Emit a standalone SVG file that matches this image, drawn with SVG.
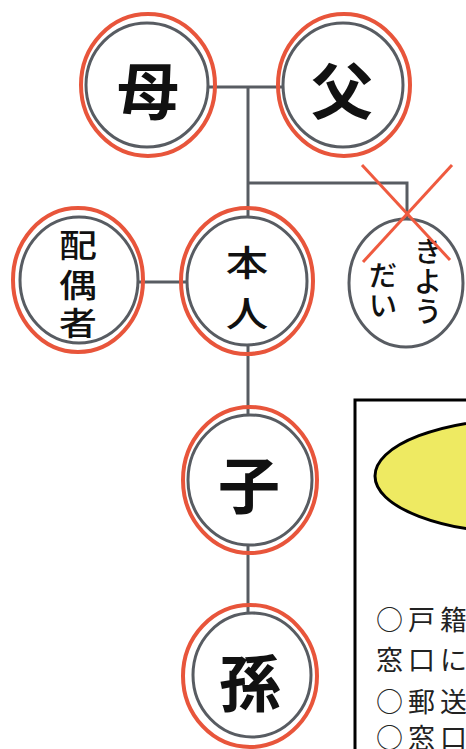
<svg xmlns="http://www.w3.org/2000/svg" width="466" height="749" viewBox="0 0 466 749">
<defs>
<style>
.red{fill:none;stroke:#e8553b;stroke-width:4}
.gray{fill:none;stroke:#585c62;stroke-width:3}
.ln{fill:none;stroke:#585c62;stroke-width:3}
.big{font-family:"Noto Sans CJK JP","Noto Sans",sans-serif;font-weight:700;font-size:62px;fill:#111;text-anchor:middle;dominant-baseline:central}
.mid{font-family:"Noto Sans CJK JP","Noto Sans",sans-serif;font-weight:500;fill:#111;text-anchor:middle;dominant-baseline:central}
.box{font-family:"Noto Sans CJK JP","Noto Sans",sans-serif;font-size:27px;letter-spacing:5px;fill:#222;dominant-baseline:central}
</style>
</defs>
<rect width="466" height="749" fill="#fff"/>
<g id="connectors">
<line class="ln" x1="208" y1="87" x2="283" y2="87"/>
<line class="ln" x1="248" y1="87" x2="248" y2="217"/>
<polyline class="ln" points="248,183 407,183 407,219"/>
<line class="ln" x1="138" y1="282" x2="187" y2="282"/>
<line class="ln" x1="248" y1="345" x2="248" y2="415"/>
<line class="ln" x1="248" y1="545" x2="248" y2="613"/>
</g>
<g id="haha">
<ellipse class="red" cx="148" cy="85" rx="67" ry="71"/>
<ellipse class="gray" cx="147" cy="85" rx="61" ry="62"/>
<text class="big" x="148" y="88">母</text>
</g>
<g id="chichi">
<ellipse class="red" cx="344" cy="85" rx="66" ry="71"/>
<ellipse class="gray" cx="343" cy="85" rx="60" ry="62"/>
<text class="big" x="342" y="88">父</text>
</g>
<g id="haigusha">
<ellipse class="red" cx="78" cy="280" rx="65" ry="72"/>
<ellipse class="gray" cx="79" cy="280" rx="59" ry="63"/>
<text class="mid" font-size="33" font-weight="700" transform="translate(78,243) scale(1.15,0.95)">配</text>
<text class="mid" font-size="33" font-weight="700" transform="translate(78,283) scale(1.15,0.95)">偶</text>
<text class="mid" font-size="33" font-weight="700" transform="translate(78,321) scale(1.15,0.95)">者</text>
</g>
<g id="honnin">
<ellipse class="red" cx="247" cy="281" rx="66" ry="73"/>
<ellipse class="gray" cx="247" cy="281" rx="60" ry="64"/>
<text class="mid" font-size="37" transform="translate(247,261) scale(1.15,0.95)">本</text>
<text class="mid" font-size="37" transform="translate(247,312) scale(1.15,0.95)">人</text>
</g>
<g id="kyoudai">
<ellipse class="gray" cx="406" cy="283" rx="57" ry="64"/>
<text class="mid" font-size="28" x="428" y="250">き</text>
<text class="mid" font-size="28" x="428" y="280">よ</text>
<text class="mid" font-size="28" x="428" y="310">う</text>
<text class="mid" font-size="28" x="383" y="274">だ</text>
<text class="mid" font-size="28" x="383" y="304">い</text>
<line x1="362" y1="165" x2="450" y2="260" stroke="#ef5a3f" stroke-width="3"/>
<line x1="452" y1="165" x2="363" y2="262" stroke="#ef5a3f" stroke-width="3"/>
</g>
<g id="ko">
<ellipse class="red" cx="250" cy="480" rx="67" ry="73"/>
<ellipse class="gray" cx="250" cy="480" rx="62" ry="65"/>
<text class="big" x="249" y="482">子</text>
</g>
<g id="mago">
<ellipse class="red" cx="250" cy="676" rx="67" ry="71"/>
<ellipse class="gray" cx="252" cy="675" rx="59" ry="62"/>
<text class="big" x="250" y="680">孫</text>
</g>
<g id="infobox">
<rect x="355" y="400" width="200" height="400" fill="#fff" stroke="#000" stroke-width="3"/>
<ellipse cx="525" cy="476" rx="150" ry="57" fill="#eeea62" stroke="#000" stroke-width="3"/>
<text class="box" x="376" y="618">○戸籍</text>
<text class="box" x="376" y="658">窓口に</text>
<text class="box" x="376" y="700">○郵送</text>
<text class="box" x="376" y="736">○窓口</text>
</g>
</svg>
